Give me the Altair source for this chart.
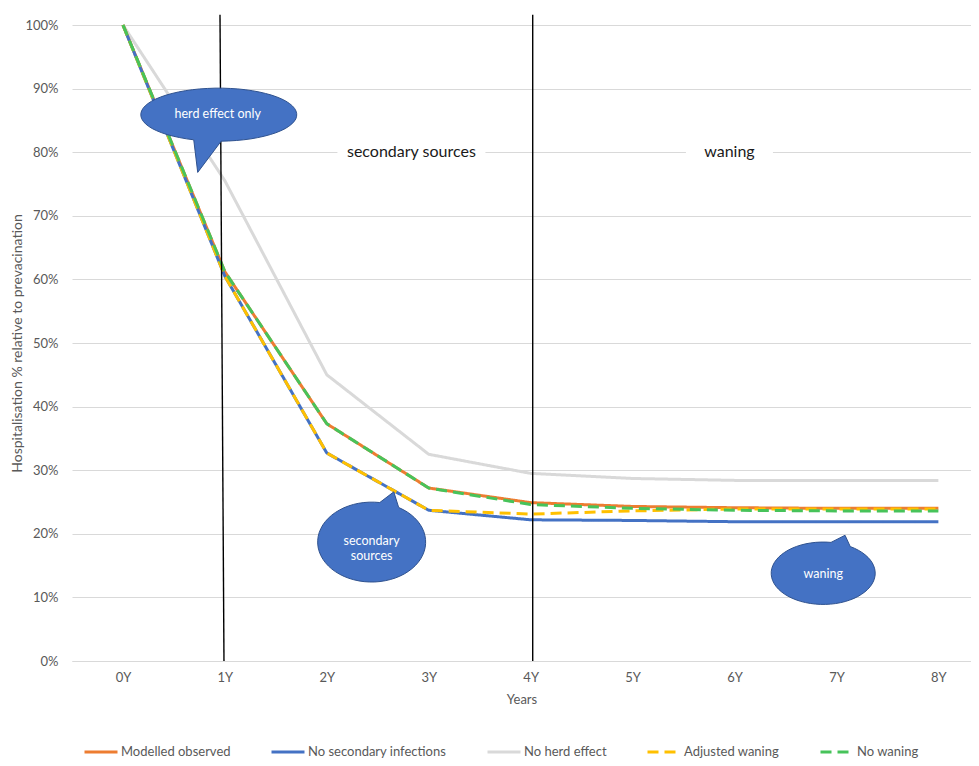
import math
import altair as alt
import pandas as pd

# ---------------- data ----------------
years = [0, 1, 2, 3, 4, 5, 6, 7, 8]
year_labels = ["0Y", "1Y", "2Y", "3Y", "4Y", "5Y", "6Y", "7Y", "8Y"]

modelled_observed = [100, 61.2, 37.3, 27.2, 24.9, 24.3, 24.1, 24.0, 24.0]
no_secondary_infections = [100, 60.5, 32.7, 23.7, 22.2, 22.1, 21.9, 21.9, 21.9]
no_herd_effect = [100, 75.5, 45.0, 32.5, 29.5, 28.7, 28.4, 28.4, 28.4]
adjusted_waning = [100, 60.5, 32.7, 23.7, 23.1, 23.6, 23.9, 23.9, 23.9]
no_waning = [100, 61.2, 37.3, 27.2, 24.6, 24.0, 23.7, 23.6, 23.6]

series_names = ["Modelled observed", "No secondary infections", "No herd effect",
                "Adjusted waning", "No waning"]
series_values = [modelled_observed, no_secondary_infections, no_herd_effect,
                 adjusted_waning, no_waning]
series_colors = ["#ED7D31", "#4472C4", "#D9D9D9", "#FFC000", "#47C35A"]
series_dash = [[1, 0], [1, 0], [1, 0], [11, 6], [11, 6]]
draw_order = ["No herd effect", "Modelled observed", "No secondary infections",
              "Adjusted waning", "No waning"]

phase_labels = ["secondary sources", "waning"]
phase_x = [2.83, 5.95]
phase_y = [80, 80]

callout_texts = ["herd effect only", "secondary\nsources", "waning"]
callout_x = [0.93, 2.44, 6.87]
callout_y = [86.0, 18.8, 13.7]

rows = []
for name, vals in zip(series_names, series_values):
    for yr, v in zip(years, vals):
        rows.append({"year": yr, "series": name, "value": v})
df = pd.DataFrame(rows)

FONT = "Lato"
GREY_TXT = "#595959"

x_scale = alt.Scale(domain=[-0.5, 8.32], nice=False, zero=False)
y_scale = alt.Scale(domain=[0, 100], nice=False)

x_axis = alt.Axis(values=years, labelExpr="datum.value + 'Y'", title="Years",
                  grid=False, ticks=False, domainColor="#D9D9D9", domainWidth=1,
                  labelFont=FONT, labelFontSize=13, labelColor=GREY_TXT, labelPadding=10,
                  titleFont=FONT, titleFontSize=13, titleColor=GREY_TXT,
                  titleFontWeight="normal", titlePadding=9)
y_axis = alt.Axis(values=list(range(0, 101, 10)), labelExpr="datum.value + '%'",
                  title="Hospitalisation % relative to prevacination",
                  grid=True, gridColor="#D9D9D9", gridWidth=1, ticks=False, domain=False,
                  labelFont=FONT, labelFontSize=13, labelColor=GREY_TXT, labelPadding=14,
                  titleFont=FONT, titleFontSize=14, titleColor=GREY_TXT,
                  titleFontWeight="normal", titleX=-55, titleY=318,
                  titleBaseline="middle", titleAlign="center", titleAngle=270)

legend = alt.Legend(title=None, orient="none", direction="horizontal",
                    legendX=11, legendY=709,
                    symbolType="stroke", symbolSize=1089,
                    symbolStrokeWidth=3, labelFont=FONT,
                    labelFontSize=13, labelColor=GREY_TXT,
                    labelOffset=2, columnPadding=34)
color_enc = alt.Color("series:N",
                      scale=alt.Scale(domain=series_names, range=series_colors),
                      legend=legend)
dash_enc = alt.StrokeDash("series:N",
                          scale=alt.Scale(domain=series_names, range=series_dash),
                          legend=legend)

X = alt.X("year:Q", scale=x_scale, axis=x_axis)
Y = alt.Y("value:Q", scale=y_scale, axis=y_axis)

base = alt.Chart(df)
line_layers = []
for name in draw_order:
    line_layers.append(
        base.transform_filter(alt.datum.series == name)
        .mark_line(strokeWidth=3, strokeCap="butt", strokeJoin="round")
        .encode(x=X, y=Y, color=color_enc, strokeDash=dash_enc)
    )

# vertical phase separators
rules_df = pd.DataFrame({"x": [0.952, 4.02], "x2": [0.991, 4.02],
                         "y": [101.6, 101.6], "y2": [0, 0]})
rules = alt.Chart(rules_df).mark_rule(color="#000000", strokeWidth=1.4).encode(
    x=alt.X("x:Q", scale=x_scale, axis=x_axis), x2="x2:Q",
    y=alt.Y("y:Q", scale=y_scale, axis=y_axis), y2="y2:Q")

# phase labels with white backing
phase_df = pd.DataFrame({"label": phase_labels, "x": phase_x, "y": phase_y,
                         "shape": ["M-1,-0.14L1,-0.14L1,0.14L-1,0.14Z",
                                   "M-1,-0.23L1,-0.23L1,0.23L-1,0.23Z"],
                         "size": [148 ** 2, 87 ** 2]})
PX = alt.X("x:Q", scale=x_scale, axis=x_axis)
PY = alt.Y("y:Q", scale=y_scale, axis=y_axis)
phase_bg = alt.Chart(phase_df).mark_point(filled=True, fill="white", opacity=1,
                                          strokeWidth=0).encode(
    x=PX, y=PY, shape=alt.Shape("shape:N", scale=None, legend=None),
    size=alt.Size("size:Q", scale=None, legend=None))
phase_text = alt.Chart(phase_df).mark_text(font=FONT, fontSize=16, color="#1a1a1a").encode(
    x=PX, y=PY, text="label:N")


# callout bubbles (shape geometry only)
def bubble(ry, t_start, t_end, tip, n=60):
    pts = []
    for k in range(n + 1):
        t = math.radians(t_start + (t_end - t_start) * k / n)
        pts.append((math.cos(t), ry * math.sin(t)))
    pts.append(tip)
    return "M" + "L".join(f"{px:.3f},{py:.3f}" for px, py in pts) + "Z"


bubble_df = pd.DataFrame({
    "x": [0.94, 2.44, 6.87],
    "y": [85.9, 18.7, 13.8],
    "shape": [bubble(0.34, 88.3, -251.3, (-0.27, 0.74)),
              bubble(0.74, -60.0, 278.6, (0.41, -0.93)),
              bubble(0.60, -58.7, 278.6, (0.42, -0.73))],
    "size": [156 ** 2, 108 ** 2, 104 ** 2],
})
bubbles = alt.Chart(bubble_df).mark_point(filled=True, fill="#4472C4", opacity=1,
                                          stroke="#2F528F", strokeWidth=1).encode(
    x=PX, y=PY, shape=alt.Shape("shape:N", scale=None, legend=None),
    size=alt.Size("size:Q", scale=None, legend=None))

callout_df = pd.DataFrame({"label": [t.split("\n") for t in callout_texts],
                           "x": callout_x, "y": callout_y})
callout_text = alt.Chart(callout_df).mark_text(font=FONT, fontSize=12.5, color="white",
                                               lineHeight=15).encode(
    x=PX, y=PY, text="label")

chart = alt.layer(*line_layers, rules, phase_bg, phase_text, bubbles, callout_text).properties(
    width=899, height=636,
    padding={"left": 64, "top": 17, "right": 0, "bottom": 97},
    autosize=alt.AutoSizeParams(type="none"),
).configure_view(stroke=None)

chart.save("out.html", embed_options={"renderer": "svg", "actions": False})
